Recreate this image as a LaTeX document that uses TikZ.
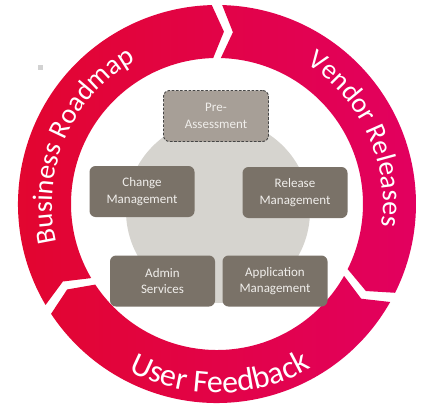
\documentclass[tikz,border=0pt]{standalone}
\usepackage{fontspec}
\setmainfont{Carlito}
\usetikzlibrary{decorations.text}
\definecolor{ringred}{RGB}{226,6,44}
\definecolor{ringpink}{RGB}{226,0,96}
\definecolor{boxdark}{RGB}{122,114,104}
\definecolor{boxlight}{RGB}{167,159,151}
\definecolor{discgray}{RGB}{214,212,207}
\definecolor{boxtext}{RGB}{240,238,235}
\definecolor{dashgray}{RGB}{70,70,70}
\begin{document}
\begin{tikzpicture}[x=1pt,y=1pt,
  procbox/.style={rounded corners=6pt, fill=boxdark, text=boxtext,
    minimum width=105pt, minimum height=51pt, align=center,
    font=\fontsize{13}{16.5}\selectfont, inner sep=0pt},
  prebox/.style={procbox, fill=boxlight, draw=dashgray, line width=0.9pt,
    dash pattern=on 2.6pt off 1.6pt},
  ringtext/.style={decorate, decoration={text along path, text align=center, text={#1}}}
]
\useasboundingbox (0,0) rectangle (423,408);
% small gray mark
\fill[gray!35] (38,338) rectangle (42.5,342.5);
% ring
\begin{scope}[shift={(217,204)}]
\path[left color=ringred, right color=ringpink]
  (210.5:199) arc[start angle=210.5,end angle=91.5,radius=199] -- (87.7:172.5) -- (91.5:146) arc[start angle=91.5,end angle=210.5,radius=146] -- (206.7:172.5) -- cycle
  (88.5:199) arc[start angle=88.5,end angle=-26.5,radius=199] -- (-30.3:172.5) -- (-26.5:146) arc[start angle=-26.5,end angle=88.5,radius=146] -- (84.7:172.5) -- cycle
  (-29.5:199) arc[start angle=-29.5,end angle=-146.5,radius=199] -- (-150.3:172.5) -- (-146.5:146) arc[start angle=-146.5,end angle=-29.5,radius=146] -- (-33.3:172.5) -- cycle;
\path[ringtext={|\color{white}\fontsize{28}{28}\selectfont|Business Roadmap}]
  (206.5:165) arc[start angle=206.5,end angle=106.5,radius=165];
\path[ringtext={|\color{white}\fontsize{28}{28}\selectfont|Vendor Releases}]
  (75:166) arc[start angle=75,end angle=-25,radius=166];
\path[ringtext={|\color{white}\fontsize{32}{32}\selectfont|User Feedback}]
  (221:189) arc[start angle=221,end angle=321,radius=189];
\end{scope}
% center disc
\fill[discgray] (218,197) circle[radius=92];
% boxes
\node[prebox] (pre) at (216,292) {Pre-\\Assessment};
\node[procbox] (change) at (142,216.5) {Change\\Management};
\node[procbox] (release) at (295,215.5) {Release\\Management};
\node[procbox] (admin) at (162.5,127) {Admin\\Services};
\node[procbox] (app) at (275,127) {Application\\Management};
\end{tikzpicture}
\end{document}
